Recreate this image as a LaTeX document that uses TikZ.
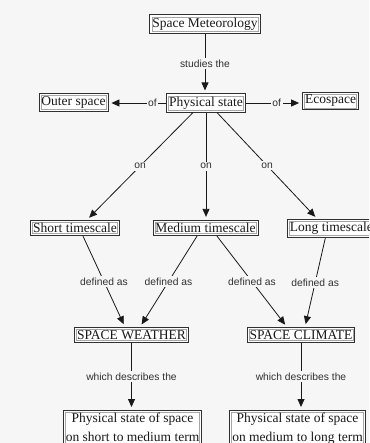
\documentclass[tikz,border=0pt]{standalone}
\usepackage{fontspec}
\setmainfont{Liberation Serif}
\newfontfamily\lblfont{Liberation Sans}
\usetikzlibrary{arrows.meta}
\definecolor{paper}{gray}{0.965}
\definecolor{ink}{gray}{0.1}
\begin{document}
\begin{tikzpicture}[x=1pt,y=-1pt,
  concept/.style={draw=ink!90, line width=0.8pt, fill=white,
    font=\fontsize{13.5}{19}\selectfont, text=ink,
    inner xsep=2.5pt, inner ysep=3pt,
    path picture={\draw[gray!70, line width=0.6pt]
      ([shift={(2pt,-2pt)}]path picture bounding box.north west) rectangle
      ([shift={(-2pt,2pt)}]path picture bounding box.south east);}},
  link/.style={draw=ink, line width=0.8pt, shorten >=3pt,
    -{Triangle[length=8pt,width=7pt]}},
  lbl/.style={fill=paper, font=\lblfont\fontsize{10.3}{12}\selectfont, text=ink!90, inner sep=1.5pt}
]
\fill[paper] (0,0) rectangle (369,443);
\useasboundingbox (0,0) rectangle (369,443);
\clip (0,0) rectangle (369,443);

% concepts
\node[concept] (sm) at (205,24) {Space Meteorology};
\node[concept] (ps) at (206,103) {Physical state};
\node[concept] (os) at (73.5,102) {Outer space};
\node[concept] (eco) at (330.5,101) {Ecospace};
\node[concept] (st) at (75,228) {Short timescale};
\node[concept] (mt) at (205.5,228) {Medium timescale};
\node[concept,anchor=west] (lt) at (287,228.5) {Long timescale};
\node[concept] (sw) at (131.5,335) {SPACE WEATHER};
\node[concept] (sc) at (301,335) {SPACE CLIMATE};
\node[concept,anchor=north,align=center] (b1) at (132.5,410) {Physical state of space\\on short to medium term};
\node[concept,anchor=north,align=center] (b2) at (297.5,410) {Physical state of space\\on medium to long term};

% links
\draw[link] (sm.south) -- node[lbl]{studies the} (sm.south |- ps.north);
\draw[link] (ps.west) -- node[lbl,pos=0.24]{of} (ps.west -| os.east);
\draw[link] (ps.east) -- node[lbl,pos=0.55]{of} (ps.east -| eco.west);

\draw[link] ([xshift=-13pt]ps.south) -- node[lbl]{on} ([xshift=12pt]st.north);
\draw[link] (ps.south) -- node[lbl]{on} (ps.south |- mt.north);
\draw[link] ([xshift=11pt]ps.south) -- node[lbl]{on} ([xshift=-14pt]lt.north);

\draw[link] ([xshift=8pt]st.south) -- node[lbl]{defined as} ([xshift=-6.5pt]sw.north);
\draw[link] ([xshift=-8.5pt]mt.south) -- node[lbl]{defined as} ([xshift=8.5pt]sw.north);
\draw[link] ([xshift=11.5pt]mt.south) -- node[lbl]{defined as} ([xshift=-14pt]sc.north);
\draw[link] ([xshift=-6pt]lt.south) -- node[lbl]{defined as} ([xshift=4pt]sc.north);

\draw[link] (sw.south) -- node[lbl]{which describes the} (sw.south |- b1.north);
\draw[link] (sc.south) -- node[lbl]{which describes the} (sc.south |- b2.north);
\end{tikzpicture}
\end{document}
